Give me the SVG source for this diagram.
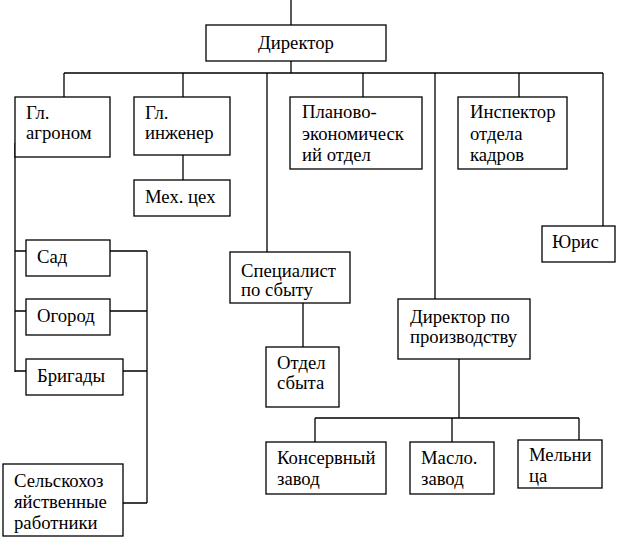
<svg xmlns="http://www.w3.org/2000/svg" width="618" height="539" viewBox="0 0 618 539">
<style>
.n{fill:#fff;stroke:#000;stroke-width:1.3}
.c{fill:none;stroke:#000;stroke-width:1.3}
</style>
<rect x="0" y="0" width="618" height="539" fill="#fff"/>
<g id="connectors">
<path class="c" d="M291,0V25M291,61V73M64,73H603M64,73V97M183,73V97M267,73V252M363,73V97M435,73V299M519,73V97M603,73V226"/>
<path class="c" d="M183,155V180"/>
<path class="c" d="M15,143V372M15,251H26M15,311H26M15,371H26"/>
<path class="c" d="M110,251H147M110,311H147M123,371H147M123,503H147M147,251V503"/>
<path class="c" d="M303,303V347"/>
<path class="c" d="M459,359V418M315,418H579M315,418V442M452,418V442M579,418V442"/>
</g>
<g id="director"><rect class="n" x="206" y="25" width="180" height="36"/><text font-family="Times New Roman" font-size="18.7" x="258" y="49">Директор</text></g>
<g id="agronom"><rect class="n" x="15" y="97" width="95" height="60"/><text font-family="Times New Roman" font-size="18.7" x="26" y="119">Гл.</text><text font-family="Times New Roman" font-size="18.7" x="26" y="139">агроном</text></g>
<g id="engineer"><rect class="n" x="134" y="97" width="96" height="58"/><text font-family="Times New Roman" font-size="18.7" x="145" y="119">Гл.</text><text font-family="Times New Roman" font-size="18.7" x="145" y="139">инженер</text></g>
<g id="mech"><rect class="n" x="134" y="180" width="96" height="36"/><text font-family="Times New Roman" font-size="18.7" x="145" y="203">Мех. цех</text></g>
<g id="plan"><rect class="n" x="290" y="97" width="132" height="72"/><text font-family="Times New Roman" font-size="18.7" x="302" y="118">Планово-</text><text font-family="Times New Roman" font-size="18.7" x="302" y="140">экономическ</text><text font-family="Times New Roman" font-size="18.7" x="302" y="161">ий отдел</text></g>
<g id="inspector"><rect class="n" x="458" y="97" width="109" height="72"/><text font-family="Times New Roman" font-size="18.7" x="470" y="118">Инспектор</text><text font-family="Times New Roman" font-size="18.7" x="470" y="140">отдела</text><text font-family="Times New Roman" font-size="18.7" x="470" y="161">кадров</text></g>
<g id="yuris"><rect class="n" x="542" y="226" width="73" height="36"/><text font-family="Times New Roman" font-size="18.7" x="552" y="248">Юрис</text></g>
<g id="sad"><rect class="n" x="26" y="240" width="84" height="36"/><text font-family="Times New Roman" font-size="18.7" x="37" y="263">Сад</text></g>
<g id="ogorod"><rect class="n" x="26" y="299" width="84" height="36"/><text font-family="Times New Roman" font-size="18.7" x="37" y="322">Огород</text></g>
<g id="brigady"><rect class="n" x="26" y="359" width="97" height="36"/><text font-family="Times New Roman" font-size="18.7" x="37" y="382">Бригады</text></g>
<g id="workers"><rect class="n" x="3" y="464" width="120" height="72"/><text font-family="Times New Roman" font-size="18.7" x="14" y="487">Сельскохоз</text><text font-family="Times New Roman" font-size="18.7" x="14" y="508">яйственные</text><text font-family="Times New Roman" font-size="18.7" x="14" y="529">работники</text></g>
<g id="sales-spec"><rect class="n" x="230" y="252" width="120" height="51"/><text font-family="Times New Roman" font-size="18.7" x="241" y="277">Специалист</text><text font-family="Times New Roman" font-size="18.7" x="241" y="296">по сбыту</text></g>
<g id="sales-dept"><rect class="n" x="266" y="347" width="73" height="60"/><text font-family="Times New Roman" font-size="18.7" x="277" y="369">Отдел</text><text font-family="Times New Roman" font-size="18.7" x="277" y="389">сбыта</text></g>
<g id="prod-director"><rect class="n" x="398" y="299" width="132" height="60"/><text font-family="Times New Roman" font-size="18.7" x="410" y="323">Директор по</text><text font-family="Times New Roman" font-size="18.7" x="410" y="343">производству</text></g>
<g id="cannery"><rect class="n" x="266" y="442" width="120" height="52"/><text font-family="Times New Roman" font-size="18.7" x="277" y="464">Консервный</text><text font-family="Times New Roman" font-size="18.7" x="277" y="485">завод</text></g>
<g id="oil"><rect class="n" x="410" y="442" width="84" height="52"/><text font-family="Times New Roman" font-size="18.7" x="421" y="464">Масло.</text><text font-family="Times New Roman" font-size="18.7" x="421" y="485">завод</text></g>
<g id="mill"><rect class="n" x="518" y="440" width="84" height="48"/><text font-family="Times New Roman" font-size="18.7" x="529" y="461">Мельни</text><text font-family="Times New Roman" font-size="18.7" x="529" y="482">ца</text></g>
</svg>
